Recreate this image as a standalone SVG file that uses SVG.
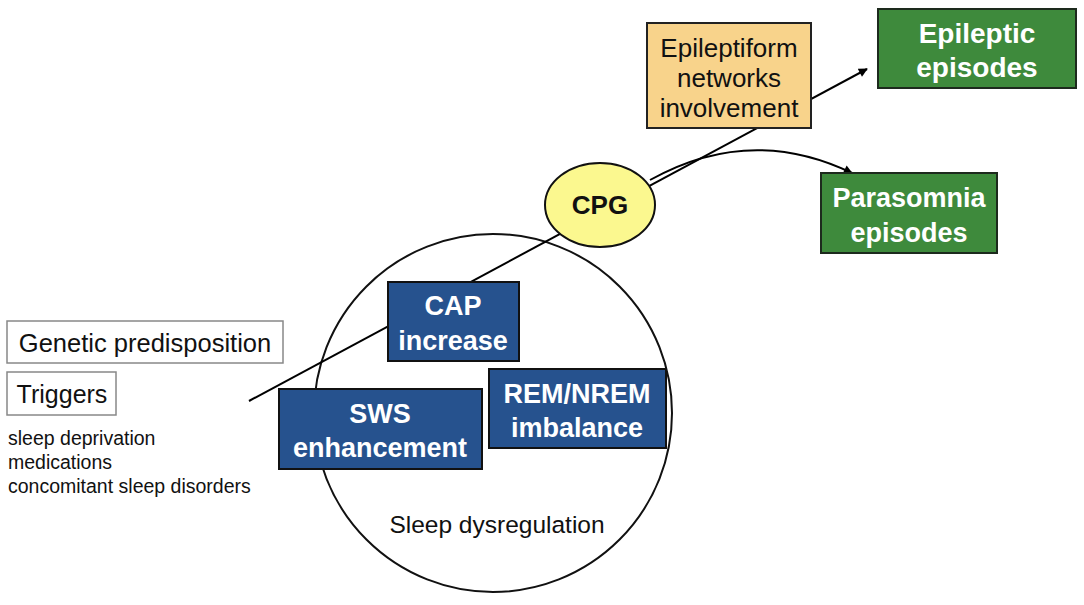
<svg xmlns="http://www.w3.org/2000/svg" width="1084" height="605" viewBox="0 0 1084 605">
<style>
text{font-family:"Liberation Sans",Arial,sans-serif;text-anchor:middle}
.reg{font-size:25px;fill:#111}
.bw{font-size:27px;font-weight:bold;fill:#fff}
.blue{fill:#26528e;stroke:#111;stroke-width:2}
.green{fill:#3e8a3c;stroke:#1d2a1d;stroke-width:2}
.gray{fill:#fff;stroke:#888;stroke-width:1.5}
.small{font-size:19.5px;fill:#111;text-anchor:start}
.conn{fill:none;stroke:#000;stroke-width:2}
</style>
<defs>
<marker id="ah" viewBox="0 0 10 10" refX="9" refY="5" markerWidth="10" markerHeight="9" orient="auto" markerUnits="userSpaceOnUse">
<path d="M0,0 L10,5 L0,10 z" fill="#000"/>
</marker>
</defs>
<rect width="1084" height="605" fill="#fff"/>
<g id="sleep-dysregulation">
<circle cx="493" cy="413" r="179" fill="#fff" stroke="#111" stroke-width="2"/>
<text class="reg" x="497" y="533" style="font-size:24.5px">Sleep dysregulation</text>
</g>
<g id="connectors">
<line class="conn" x1="249" y1="401" x2="867" y2="69" marker-end="url(#ah)"/>
<path class="conn" d="M650,180 Q750,124 852,173" marker-end="url(#ah)"/>
</g>
<g id="genetic">
<rect class="gray" x="7" y="321" width="276" height="42"/>
<text class="reg" x="145" y="352" style="font-size:25.5px">Genetic predisposition</text>
</g>
<g id="triggers">
<rect class="gray" x="7" y="372" width="109" height="43"/>
<text class="reg" x="62" y="403">Triggers</text>
<text class="small" x="8" y="445">sleep deprivation</text>
<text class="small" x="8" y="469">medications</text>
<text class="small" x="8" y="493">concomitant sleep disorders</text>
</g>
<g id="cap">
<rect class="blue" x="388" y="282" width="131" height="79"/>
<text class="bw" x="453" y="315">CAP</text>
<text class="bw" x="453" y="350">increase</text>
</g>
<g id="rem">
<rect class="blue" x="489" y="369" width="177" height="79"/>
<text class="bw" x="577" y="403">REM/NREM</text>
<text class="bw" x="577" y="437">imbalance</text>
</g>
<g id="sws">
<rect class="blue" x="279" y="389" width="203" height="80"/>
<text class="bw" x="380" y="423">SWS</text>
<text class="bw" x="380" y="457">enhancement</text>
</g>
<g id="cpg">
<ellipse cx="600" cy="205" rx="55" ry="42" fill="#fbf88f" stroke="#111" stroke-width="2"/>
<text x="600" y="214" style="font-size:26px;font-weight:bold;fill:#111">CPG</text>
</g>
<g id="epileptiform">
<rect x="647" y="23" width="164" height="105" fill="#f8d38b" stroke="#222" stroke-width="2"/>
<text class="reg" x="729" y="57" style="font-size:26px">Epileptiform</text>
<text class="reg" x="729" y="87" style="font-size:26px">networks</text>
<text class="reg" x="729" y="117" style="font-size:26px">involvement</text>
</g>
<g id="epileptic">
<rect class="green" x="878" y="9" width="198" height="79"/>
<text class="bw" x="977" y="43" style="font-size:28px">Epileptic</text>
<text class="bw" x="977" y="77" style="font-size:28px">episodes</text>
</g>
<g id="parasomnia">
<rect class="green" x="821" y="173" width="176" height="80"/>
<text class="bw" x="909" y="207">Parasomnia</text>
<text class="bw" x="909" y="242">episodes</text>
</g>
</svg>
